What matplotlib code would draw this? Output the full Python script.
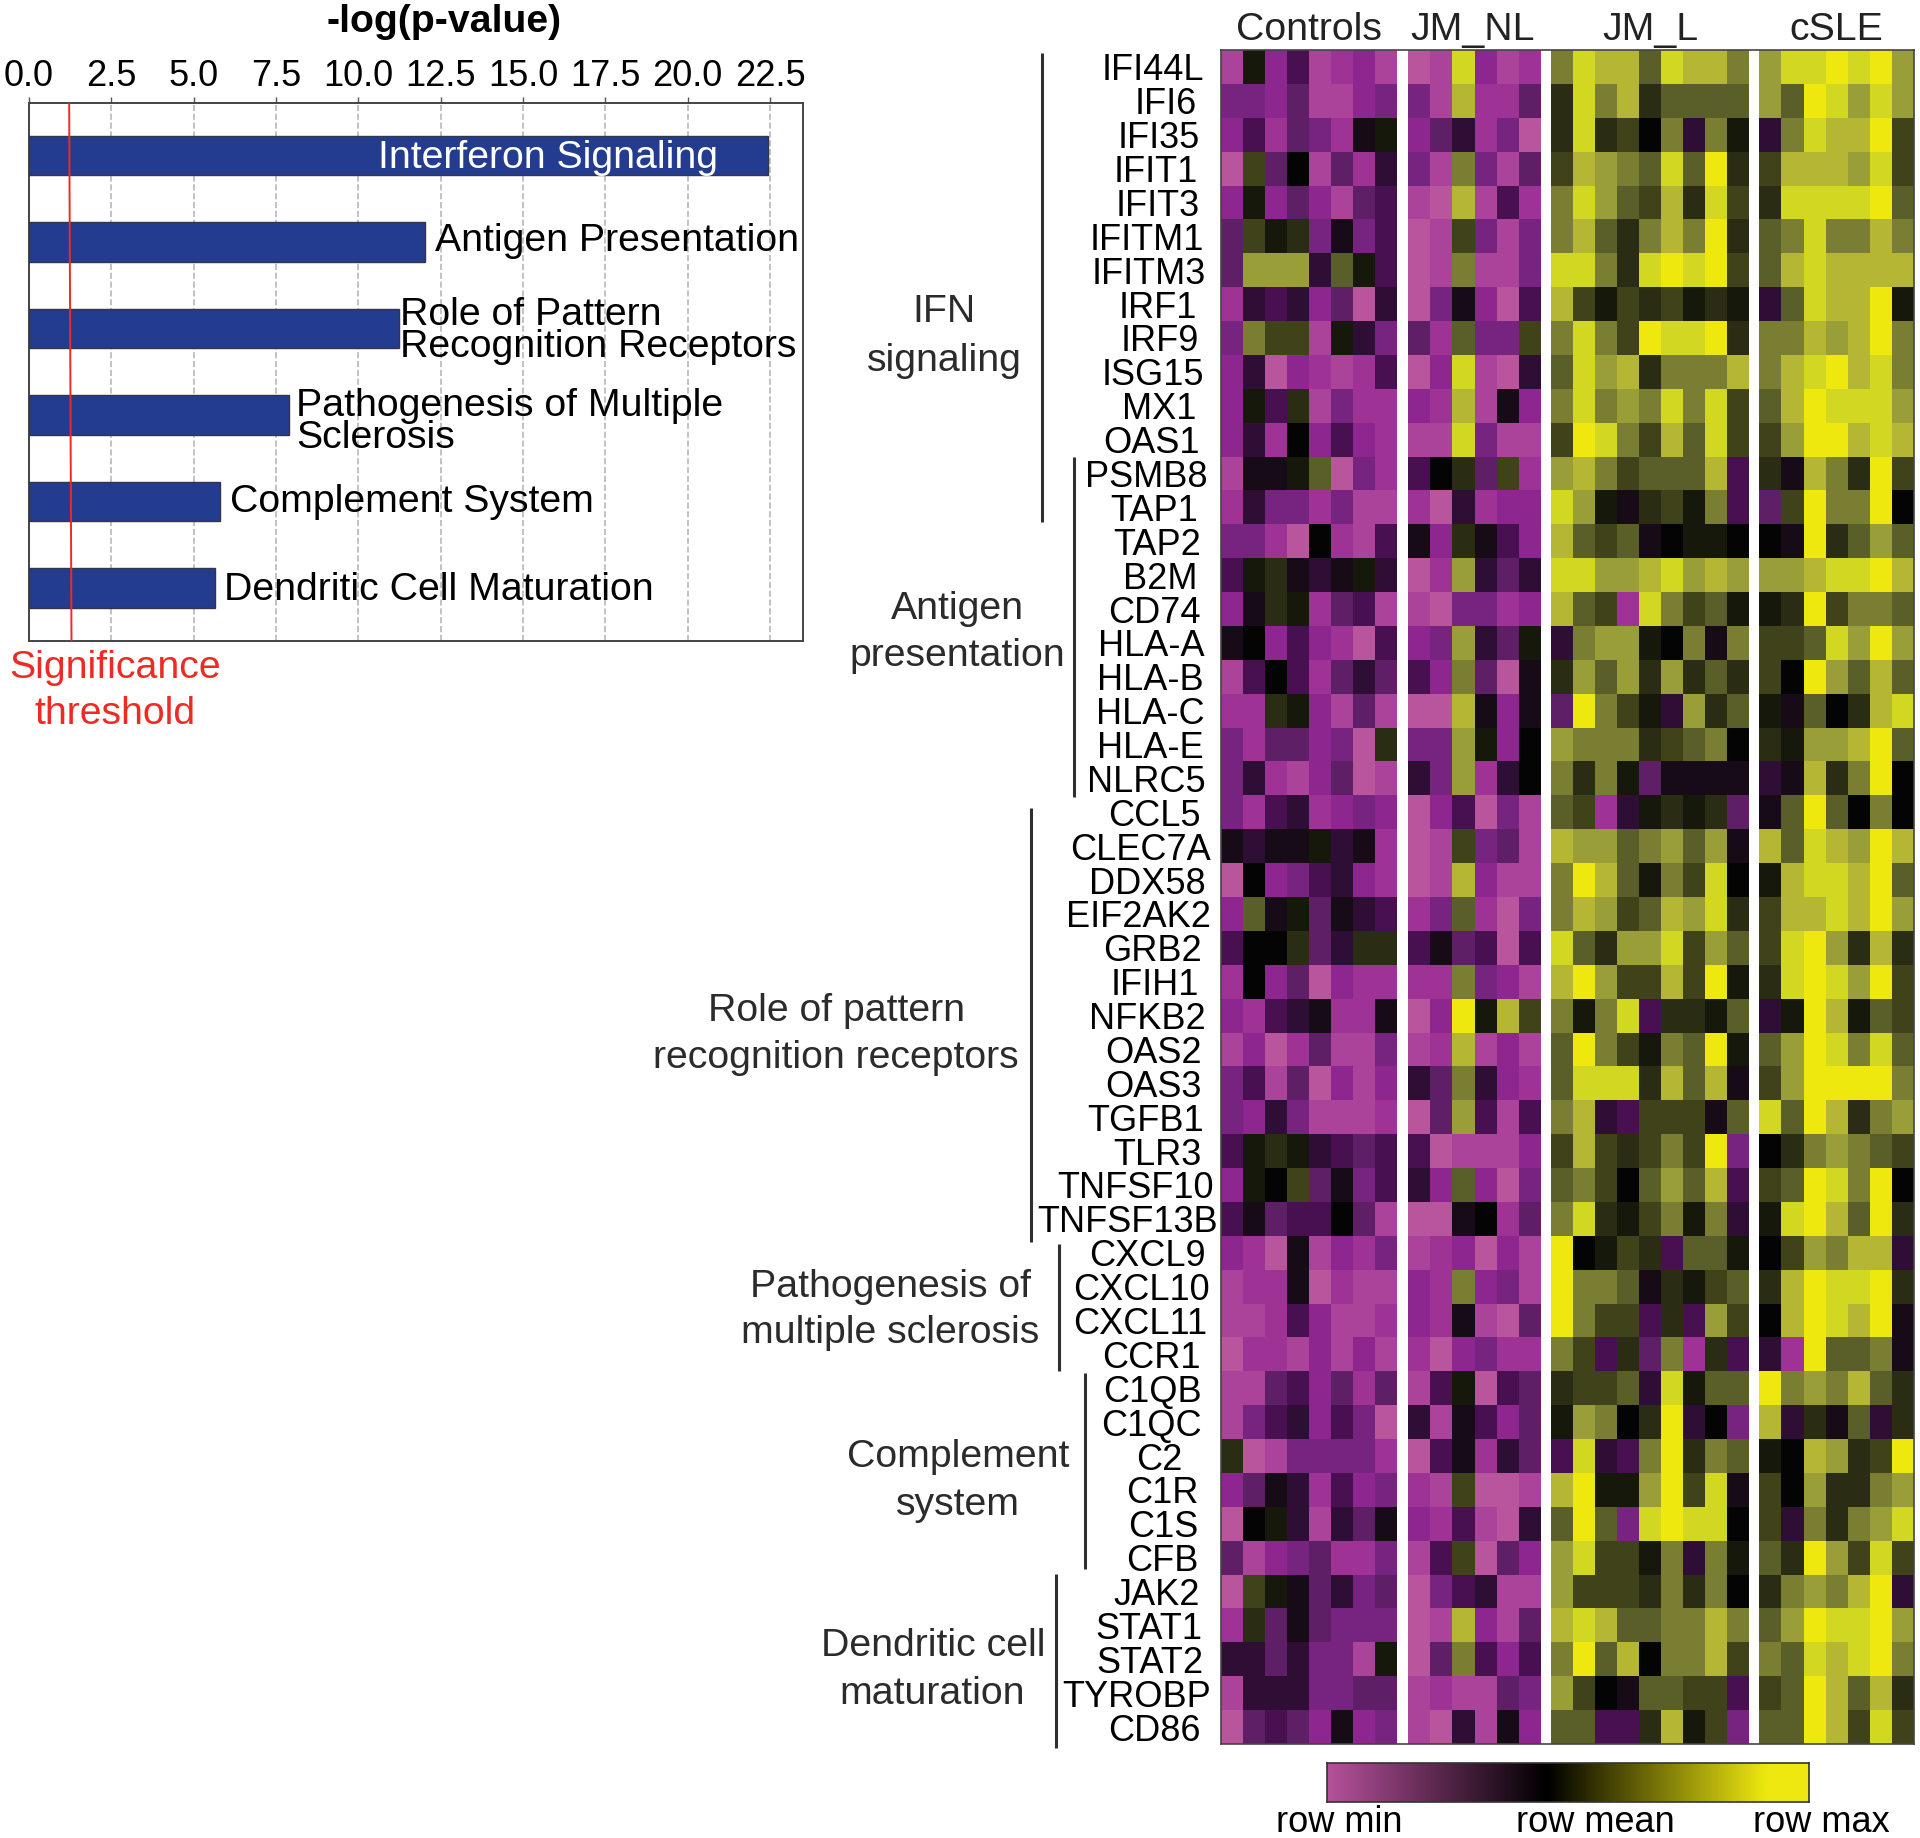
#coding: utf-8
import numpy as np
import matplotlib
matplotlib.use('Agg')
import matplotlib.pyplot as plt
from matplotlib.colors import ListedColormap, LinearSegmentedColormap

W, H = 1920, 1838

pathways = ['Interferon Signaling', 'Antigen Presentation', 'Role of Pattern Recognition Receptors',
            'Pathogenesis of Multiple Sclerosis', 'Complement System', 'Dendritic Cell Maturation']
pvalues = [22.43, 12.02, 11.23, 7.9, 5.81, 5.65]
threshold = [1.22, 1.29]
x_ticks = [0.0, 2.5, 5.0, 7.5, 10.0, 12.5, 15.0, 17.5, 20.0, 22.5]

genes = ['IFI44L', 'IFI6', 'IFI35', 'IFIT1', 'IFIT3', 'IFITM1', 'IFITM3', 'IRF1', 'IRF9', 'ISG15',
         'MX1', 'OAS1', 'PSMB8', 'TAP1', 'TAP2', 'B2M', 'CD74', 'HLA-A', 'HLA-B', 'HLA-C',
         'HLA-E', 'NLRC5', 'CCL5', 'CLEC7A', 'DDX58', 'EIF2AK2', 'GRB2', 'IFIH1', 'NFKB2', 'OAS2',
         'OAS3', 'TGFB1', 'TLR3', 'TNFSF10', 'TNFSF13B', 'CXCL9', 'CXCL10', 'CXCL11', 'CCR1', 'C1QB',
         'C1QC', 'C2', 'C1R', 'C1S', 'CFB', 'JAK2', 'STAT1', 'STAT2', 'TYROBP', 'CD86']

# scale is -9 (row min) .. 0 (row mean) .. 9 (row max)
controls = [
    [-8, 1, -6, -3, -8, -7, -6, -8], [-5, -5, -6, -4, -8, -8, -6, -5], [-6, -3, -7, -4, -5, -7, -1, 1],
    [-9, 3, -4, 0, -8, -4, -7, -2], [-6, 1, -6, -4, -6, -8, -4, -3], [-4, 3, 1, 2, -5, -1, -5, -3],
    [-4, 6, 6, 6, -2, 4, 1, -3], [-7, -2, -3, -2, -6, -4, -9, -2], [-5, 5, 3, 3, -8, 1, -2, -5],
    [-6, -2, -9, -6, -7, -8, -7, -3], [-6, 1, -3, 2, -8, -5, -7, -7], [-6, -2, -7, 0, -6, -3, -6, -7],
    [-8, -1, -1, 1, 4, -9, -5, -7], [-7, -2, -5, -5, -7, -5, -8, -8], [-5, -5, -7, -9, 0, -7, -8, -3],
    [-3, 1, 2, -1, -2, -1, 1, -2], [-6, -1, 2, 1, -7, -4, -3, -8], [-1, 0, -6, -3, -6, -7, -9, -3],
    [-8, -3, 0, -3, -7, -4, -2, -4], [-7, -7, 2, 1, -6, -8, -4, -8], [-5, -7, -4, -4, -6, -5, -9, 2],
    [-5, -2, -7, -8, -6, -4, -9, -8], [-5, -7, -3, -2, -7, -6, -5, -6], [-1, -2, -1, -1, 1, -2, -1, -7],
    [-9, 0, -6, -5, -3, -2, -6, -7], [-6, 4, -1, 1, -4, -1, -2, -3], [-3, 0, 0, 2, -4, -2, 2, 2],
    [-7, 0, -6, -4, -9, -6, -7, -7], [-6, -7, -3, -2, -1, -7, -7, -1], [-8, -6, -9, -7, -4, -8, -8, -5],
    [-5, -3, -8, -4, -9, -6, -8, -6], [-5, -6, -2, -5, -8, -8, -8, -7], [-3, 1, 2, 1, -2, -3, -4, -3],
    [-6, 1, 0, 3, -4, -1, -5, -3], [-3, -1, -4, -3, -3, 0, -4, -8], [-6, -7, -9, -1, -8, -6, -7, -5],
    [-8, -7, -7, -1, -9, -7, -8, -8], [-8, -8, -7, -3, -6, -8, -8, -7], [-9, -7, -7, -8, -6, -8, -6, -8],
    [-8, -8, -4, -3, -6, -4, -7, -4], [-8, -5, -3, -2, -6, -3, -5, -9], [2, -9, -8, -5, -5, -5, -5, -7],
    [-6, -4, -1, -2, -7, -3, -6, -5], [-9, 0, 1, -2, -8, -2, -4, -1], [-4, -8, -6, -5, -4, -7, -7, -5],
    [-9, 3, 1, -1, -4, -2, -5, -4], [-7, 2, -4, -1, -4, -5, -5, -5], [-2, -2, -4, -2, -5, -5, -8, 1],
    [-8, -2, -2, -2, -5, -5, -4, -4], [-9, -4, -3, -4, -6, -1, -6, -5]]

jm_nl = [
    [-9, -8, 8, -6, -8, -7], [-5, -8, 7, -7, -7, -4], [-6, -4, -2, -7, -5, -9], [-5, -8, 5, -5, -8, -4],
    [-8, -9, 7, -8, -3, -7], [-9, -8, 3, -5, -8, -5], [-9, -8, 5, -8, -8, -5], [-9, -5, -1, -6, -9, -3],
    [-4, -7, 4, -5, -5, 3], [-9, -6, 8, -8, -9, -2], [-6, -7, 7, -8, -1, -6], [-8, -8, 8, -5, -8, -8],
    [-3, 0, 2, -4, 3, -7], [-7, -9, -2, -7, -6, -6], [-1, -6, 2, -1, -3, -6], [-9, -7, 6, -2, -4, -2],
    [-8, -9, -5, -5, -7, -6], [-6, -5, 6, -2, -4, 1], [-3, -6, 5, -4, -9, -1], [-9, -9, 7, -1, -6, -1],
    [-5, -5, 6, 1, -6, 0], [-2, -5, 6, -7, -2, 0], [-9, -6, -3, -9, -5, -8], [-9, -8, 3, -5, -4, -8],
    [-9, -8, 7, -6, -8, -8], [-7, -5, 4, -7, -9, -5], [-3, -1, -4, -3, -9, -3], [-7, -7, 5, -5, -6, -8],
    [-9, -6, 9, 1, 7, 3], [-8, -7, 7, -8, -6, -8], [-2, -4, 5, -2, -6, -7], [-9, -4, 6, -3, -8, -3],
    [-3, -9, -8, -8, -8, -6], [-2, -6, 4, -6, -9, -5], [-9, -9, -1, 0, -7, -4], [-8, -7, -6, -9, -6, -8],
    [-6, -7, 5, -6, -5, -8], [-6, -7, -1, -8, -9, -4], [-7, -9, -6, -5, -7, -7], [-8, -3, 1, -9, -3, -4],
    [-2, -8, -1, -3, -6, -4], [-9, -3, -1, -7, -2, -4], [-7, -8, 3, -9, -9, -8], [-6, -7, -3, -8, -9, -2],
    [-8, -3, 3, -9, -4, -6], [-9, -5, -3, -2, -8, -8], [-9, -8, 7, -6, -8, -4], [-9, -4, 5, -3, -6, -3],
    [-8, -7, -8, -8, -4, -5], [-8, -9, -2, -8, -1, -6]]

jm_l = [
    [5, 8, 7, 7, 4, 8, 7, 7, 5], [2, 8, 5, 7, 2, 4, 4, 4, 4], [2, 8, 2, 3, 0, 5, -2, 5, 1],
    [3, 7, 6, 5, 4, 8, 4, 9, 2], [5, 8, 6, 4, 3, 7, 2, 8, 3], [5, 7, 4, 2, 5, 7, 5, 9, 2],
    [8, 8, 5, 2, 8, 9, 8, 9, 3], [7, 3, 1, 3, 2, 3, 1, 2, 1], [5, 8, 5, 3, 9, 8, 8, 9, 2],
    [4, 8, 6, 7, 2, 5, 5, 5, 7], [5, 8, 5, 6, 5, 8, 5, 8, 3], [3, 9, 8, 5, 3, 7, 4, 8, 3],
    [6, 7, 5, 3, 4, 4, 4, 7, -3], [8, 6, 1, -1, 2, 3, 1, 5, -3], [7, 4, 3, 4, -1, 0, 1, 1, 0],
    [8, 8, 6, 6, 7, 8, 6, 7, 6], [7, 4, 3, -7, 8, 5, 3, 4, 1], [-2, 5, 6, 6, 1, 0, 5, -1, 5],
    [2, 6, 4, 6, 2, 6, 2, 4, 2], [-4, 9, 5, 3, 1, -2, 6, 2, 4], [6, 5, 5, 5, 2, 3, 4, 5, 0],
    [5, 2, 5, 1, -4, -1, -1, -1, -1], [4, 3, -7, -2, 1, 2, 1, 2, -4], [7, 6, 6, 4, 5, 6, 4, 6, -1],
    [5, 9, 7, 4, 1, 5, 3, 8, 0], [5, 7, 6, 3, 4, 7, 6, 8, 2], [8, 4, 2, 6, 6, 8, 3, 6, 4],
    [7, 9, 6, 3, 3, 7, 3, 9, 1], [5, 1, 5, 8, -3, 2, 2, 1, 4], [4, 9, 5, 3, 1, 5, 4, 9, 1],
    [4, 8, 8, 8, 2, 7, 4, 7, -1], [5, 7, -2, -3, 3, 3, 3, -1, 4], [3, 7, 3, 2, 3, 5, 3, 9, -5],
    [4, 5, 3, 0, 4, 6, 4, 7, -3], [5, 8, 2, 1, 3, 5, 1, 5, -2], [9, 0, 1, 3, 2, -3, 4, 4, 1],
    [9, 5, 5, 4, -1, 2, 1, 3, 4], [9, 5, 3, 3, -3, 2, -3, 6, 3], [5, 3, -3, 2, -4, 5, -7, 2, -3],
    [2, 3, 3, 4, -2, 8, 1, 4, 4], [1, 6, 5, 0, 2, 9, -2, 0, -5], [-3, 8, -2, -3, 5, 9, 2, 5, 4],
    [7, 9, 1, 1, 6, 9, 3, 8, -1], [4, 9, 4, -5, 8, 9, 8, 8, 0], [6, 8, 3, 3, 1, 5, -2, 5, 1],
    [6, 3, 3, 3, 2, 5, 2, 5, 0], [7, 8, 7, 4, 4, 5, 5, 7, 5], [5, 9, 4, 7, 0, 5, 5, 7, 3],
    [6, 3, 0, -1, 4, 4, 3, 3, -3], [4, 4, -3, -3, 2, 7, 1, 3, -5]]

csle = [
    [6, 8, 8, 9, 8, 9, 6], [6, 4, 9, 8, 6, 8, 6], [-2, 5, 8, 7, 7, 9, 3], [3, 7, 7, 7, 6, 8, 3],
    [2, 8, 8, 8, 8, 9, 4], [4, 5, 8, 5, 5, 7, 5], [4, 7, 8, 7, 7, 7, 7], [-2, 4, 8, 7, 7, 9, 1],
    [5, 5, 7, 6, 7, 9, 5], [5, 7, 8, 9, 7, 8, 5], [4, 7, 9, 8, 8, 8, 6], [3, 6, 9, 9, 7, 8, 7],
    [2, -1, 7, 5, 2, 9, 3], [-4, 3, 9, 5, 5, 9, 0], [0, -1, 9, 2, 4, 6, 4], [6, 6, 7, 8, 8, 9, 7],
    [1, 2, 9, 3, 5, 5, 4], [3, 3, 4, 8, 6, 9, 6], [3, 0, 9, 6, 4, 7, 4], [1, -1, 4, 0, 2, 7, 8],
    [2, 1, 6, 6, 7, 9, 4], [-2, -1, 7, 2, 5, 9, 0], [-1, 4, 9, 4, 0, 5, 0], [7, 4, 8, 7, 6, 9, 7],
    [1, 7, 8, 8, 7, 9, 4], [3, 7, 7, 8, 7, 9, 6], [3, 8, 9, 6, 2, 7, 2], [2, 8, 9, 8, 6, 9, 3],
    [-2, 1, 9, 7, 1, 4, 3], [4, 6, 9, 8, 5, 8, 4], [3, 6, 9, 9, 9, 9, 5], [8, 4, 9, 7, 2, 5, 6],
    [0, 2, 5, 6, 5, 4, 3], [3, 4, 9, 8, 5, 9, 0], [1, 8, 9, 7, 4, 9, 2], [0, 3, 6, 5, 7, 7, -2],
    [2, 7, 9, 8, 8, 9, 2], [0, 7, 9, 8, 7, 9, -1], [-2, -7, 9, 4, 4, 5, -1], [9, 5, 6, 5, 7, 4, 2],
    [7, -2, 2, -1, 4, -2, 2], [1, 0, 7, 6, 2, 3, 9], [3, 0, 6, 2, 2, 5, 6], [3, -2, 5, 2, 5, 6, 8],
    [4, 2, 9, 6, 3, 8, 3], [2, 5, 6, 5, 7, 9, -2], [4, 6, 9, 8, 8, 9, 6], [5, 4, 8, 7, 8, 9, 5],
    [3, 4, 9, 7, 4, 7, 2], [4, 4, 9, 7, 3, 8, 3]]

group_names = ['Controls', 'JM_NL', 'JM_L', 'cSLE']

cell_colors = ['#b8559d', '#ac439a', '#9e3295', '#8e268f', '#762480', '#5f1f66', '#481050', '#2e0e34',
               '#180b18', '#050405', '#16180c', '#2a2c14', '#40421a', '#5a5e28', '#7a7e32', '#9a9e38',
               '#b4b634', '#d2d822', '#eee80f']

plt.rcParams['font.family'] = ['Liberation Sans', 'DejaVu Sans']


def ax_px(fig, x0, y0, x1, y1):
    # axes from pixel box, y counted from the top of the image
    return fig.add_axes([x0 / W, 1 - y1 / H, (x1 - x0) / W, (y1 - y0) / H])


def text_px(fig, x, y, txt, **kw):
    kw.setdefault('va', 'center')
    kw.setdefault('fontsize', 28.3)
    # va center sits a bit high for this font
    return fig.text(x / W, 1 - (y + 3) / H, txt, **kw)


def draw_bars(fig):
    ax = ax_px(fig, 29, 103, 803, 640.5)
    y = np.arange(len(pvalues))
    ax.barh(y, pvalues, height=0.457, color='#243c8f', edgecolor='#33364a', linewidth=1, zorder=3)
    ax.plot(threshold, [-0.61, 5.61], color='#ee2a24', lw=1.4, zorder=4)
    ax.set_xlim(0, 23.5)
    ax.set_ylim(5.61, -0.61)
    ax.set_yticks([])
    ax.set_xticks(x_ticks)
    ax.set_xticklabels(['%.1f' % t for t in x_ticks])
    ax.xaxis.tick_top()
    ax.tick_params(axis='x', labelsize=26, length=4.5, width=1, color='#555555', pad=2)
    ax.grid(axis='x', color='#b8b8b8', linestyle='--', linewidth=1.2, zorder=1)
    for s in ax.spines.values():
        s.set_color('#444444')
        s.set_linewidth(1.4)

    text_px(fig, 444, 19, '-log(p-value)', ha='center', fontweight='bold')
    text_px(fig, 377.5, 154.5, 'Interferon Signaling', color='white')
    text_px(fig, 435, 238, 'Antigen Presentation')
    text_px(fig, 399.5, 312, 'Role of Pattern')
    text_px(fig, 399.5, 344, 'Recognition Receptors')
    text_px(fig, 296, 403, 'Pathogenesis of Multiple')
    text_px(fig, 296, 435, 'Sclerosis')
    text_px(fig, 230, 499, 'Complement System')
    text_px(fig, 224.5, 587, 'Dendritic Cell Maturation')
    text_px(fig, 115, 665, 'Significance', ha='center', color='#ee2a24')
    text_px(fig, 115, 711, 'threshold', ha='center', color='#ee2a24')


def draw_heatmap(fig):
    cmap = ListedColormap(cell_colors)
    top, bottom = 50, 1744
    boxes = [(1221, 1397.3), (1408.3, 1540.7), (1550.7, 1749.3), (1759.3, 1914)]
    centers = [1309, 1473, 1650, 1836]
    for vals, box, name, cx in zip([controls, jm_nl, jm_l, csle], boxes, group_names, centers):
        ax = ax_px(fig, box[0], top, box[1], bottom)
        ax.pcolormesh(np.array(vals), cmap=cmap, vmin=-9.5, vmax=9.5)
        ax.invert_yaxis()
        ax.axis('off')
        text_px(fig, cx, 27, name, ha='center', color='#222222')

    # thin dark frame round the whole map, the white gaps stay open
    frame = ax_px(fig, 1221, top, 1914, bottom)
    frame.patch.set_alpha(0)
    frame.set_xticks([])
    frame.set_yticks([])
    for s in frame.spines.values():
        s.set_color('#444444')
        s.set_linewidth(1.2)


gene_right = [1204, 1197, 1200, 1198, 1200, 1204, 1206, 1197, 1199, 1204,
              1196, 1200, 1208, 1198, 1201, 1198, 1201, 1205, 1204, 1205,
              1204, 1206, 1201, 1211, 1206, 1211, 1202, 1199, 1206, 1202,
              1202, 1204, 1201, 1214, 1218, 1206, 1210, 1207, 1201, 1202,
              1202, 1182, 1198, 1198, 1198, 1200, 1202, 1204, 1211, 1201]


def draw_labels(fig):
    for i, g in enumerate(genes):
        text_px(fig, gene_right[i], 50 + (i + 0.5) * 33.88 + 1, g, ha='right', fontsize=26, color='black')

    brackets = [(1042, 53, 522), (1073.5, 457, 797), (1031, 808, 1242),
                (1058.5, 1244, 1371), (1084.5, 1373, 1569), (1055.5, 1574, 1748)]
    overlay = fig.add_axes([0, 0, 1, 1])
    overlay.set_xlim(0, W)
    overlay.set_ylim(H, 0)
    overlay.axis('off')
    overlay.patch.set_alpha(0)
    for x, y0, y1 in brackets:
        overlay.plot([x, x], [y0, y1], color='#2f2f2f', lw=2.2, solid_capstyle='butt')

    group_text = [(944, 309, 'IFN'), (944, 358, 'signaling'),
                  (957, 606, 'Antigen'), (957, 653, 'presentation'),
                  (836, 1008, 'Role of pattern'), (836, 1055, 'recognition receptors'),
                  (890, 1284, 'Pathogenesis of'), (890, 1330, 'multiple sclerosis'),
                  (958, 1454, 'Complement'), (958, 1502, 'system'),
                  (933, 1643, 'Dendritic cell'), (932, 1691, 'maturation')]
    for x, y, t in group_text:
        text_px(fig, x, y, t, ha='center', color='#2b2b2b')


def draw_colorbar(fig):
    ax = ax_px(fig, 1327, 1763, 1809, 1802)
    cbar_cmap = LinearSegmentedColormap.from_list(
        'rowscale', [(0, '#b5519b'), (0.457, '#000000'), (0.913, '#eee80f'), (1, '#eee80f')])
    ax.imshow(np.linspace(0, 1, 512)[None, :], cmap=cbar_cmap, aspect='auto')
    ax.set_xticks([])
    ax.set_yticks([])
    for s in ax.spines.values():
        s.set_color('#333333')
        s.set_linewidth(1.2)
    text_px(fig, 1339, 1819, 'row min', ha='center', fontsize=26)
    text_px(fig, 1595, 1819, 'row mean', ha='center', fontsize=26)
    text_px(fig, 1821, 1819, 'row max', ha='center', fontsize=26)


def main():
    fig = plt.figure(figsize=(W / 100, H / 100), dpi=100)
    fig.patch.set_facecolor('white')
    draw_bars(fig)
    draw_heatmap(fig)
    draw_labels(fig)
    draw_colorbar(fig)
    fig.savefig('out.png', dpi=100)


main()
